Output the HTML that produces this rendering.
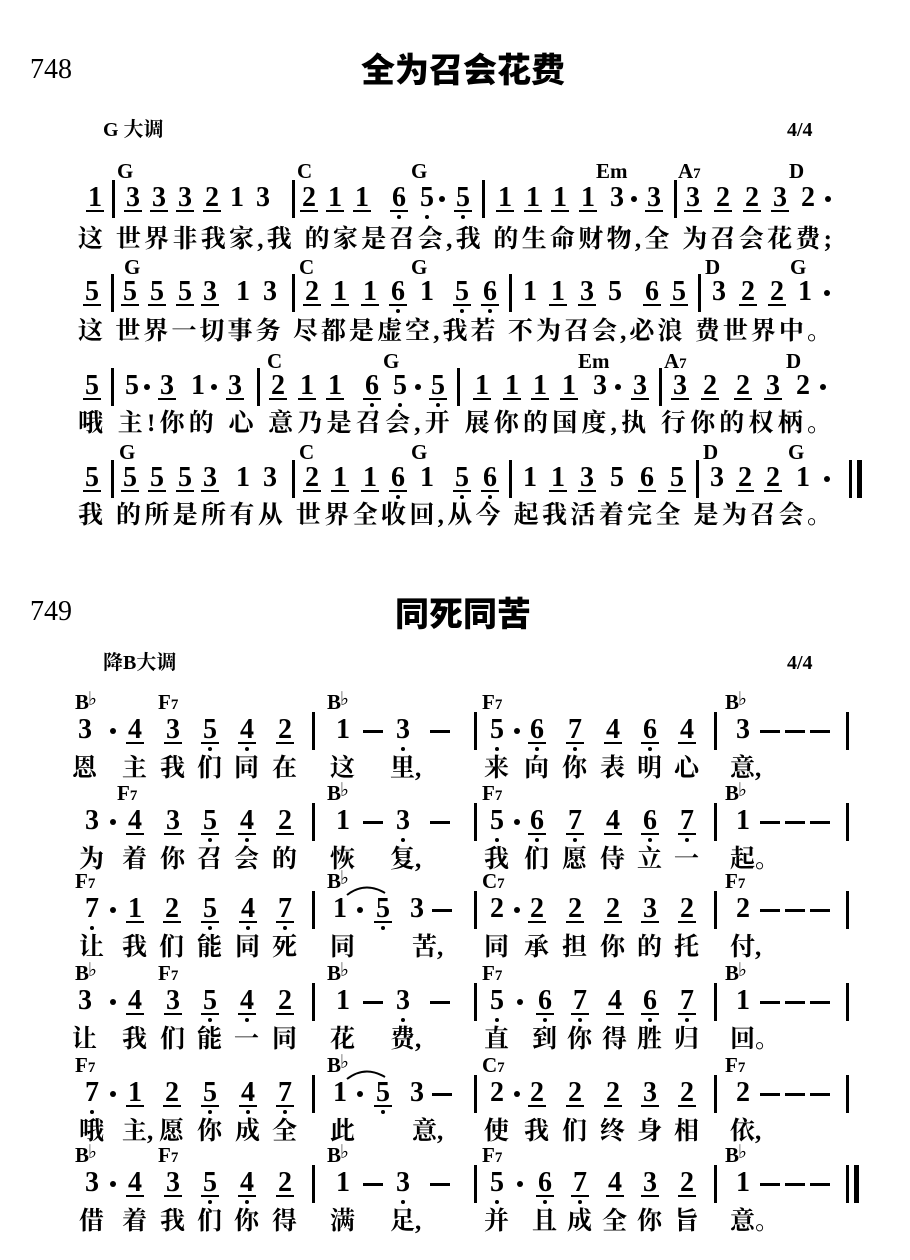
<!DOCTYPE html>
<html><head><meta charset="utf-8">
<style>
body{margin:0;background:#fff;}
#p{position:relative;width:910px;height:1260px;overflow:hidden;background:#fff;color:#000;}
.r{position:absolute;left:0;width:910px;height:0;}
.n{position:absolute;top:-14px;width:18px;height:25px;margin-left:-9px;text-align:center;font:bold 28px/26px "Liberation Serif",serif;}
.u{border-bottom:2px solid #000;}
.d::after{content:"";position:absolute;left:7px;bottom:-9px;width:4px;height:4px;border-radius:50%;background:#000;}
.m{position:absolute;top:-3px;width:6px;height:6px;margin-left:-3px;border-radius:50%;background:#000;}
.b{position:absolute;top:-19px;height:38px;width:3px;margin-left:-1px;background:#000;}
.ds{position:absolute;top:-1px;width:20px;height:3px;margin-left:-10px;background:#000;}
.c{position:absolute;font:bold 21px/20px "Liberation Serif",serif;white-space:nowrap;}
.c small{font-size:15px;}
.c sup{font-size:19px;position:relative;top:-4px;vertical-align:baseline;font-weight:normal;margin-left:-1px}
.ly{position:absolute;left:78px;width:754px;font:bold 25px/28px "Liberation Serif","Noto Serif CJK SC",serif;text-align:justify;text-align-last:justify;white-space:nowrap;}
.l{position:absolute;top:24px;width:30px;margin-left:-13px;font:bold 25px/28px "Liberation Serif","Noto Serif CJK SC",serif;white-space:nowrap;}
.num{position:absolute;font:28px/30px "Liberation Serif",serif;}
.t{position:absolute;left:0;width:910px;text-align:center;font:900 34px/38px "Liberation Sans","Noto Sans CJK SC",sans-serif;}
.k{position:absolute;font:bold 20px/22px "Liberation Serif","Noto Serif CJK SC",serif;}
</style></head><body><div id="p">

<div class="num" style="left:30px;top:55px">748</div>
<div class="t" style="top:52px;left:8px">全为召会花费</div>
<div class="k" style="left:103px;top:119px">G 大调</div>
<div class="k" style="left:787px;top:119px">4/4</div>

<!-- S1 row1 -->
<div class="r" style="top:199px">
<span class="c" style="left:117px;top:-38px">G</span><span class="c" style="left:297px;top:-38px">C</span><span class="c" style="left:411px;top:-38px">G</span><span class="c" style="left:596px;top:-38px">Em</span><span class="c" style="left:678px;top:-38px">A<small>7</small></span><span class="c" style="left:789px;top:-38px">D</span>
<i class="n u" style="left:95px">1</i><i class="b" style="left:113px"></i>
<i class="n u" style="left:133px">3</i><i class="n u" style="left:159px">3</i><i class="n u" style="left:185px">3</i><i class="n u" style="left:212px">2</i><i class="n" style="left:237px">1</i><i class="n" style="left:263px">3</i><i class="b" style="left:293px"></i>
<i class="n u" style="left:309px">2</i><i class="n u" style="left:335px">1</i><i class="n u" style="left:362px">1</i><i class="n u d" style="left:399px">6</i><i class="n d" style="left:427px">5</i><i class="m" style="left:442px"></i><i class="n u d" style="left:463px">5</i><i class="b" style="left:483px"></i>
<i class="n u" style="left:505px">1</i><i class="n u" style="left:533px">1</i><i class="n u" style="left:560px">1</i><i class="n u" style="left:588px">1</i><i class="n" style="left:617px">3</i><i class="m" style="left:634px"></i><i class="n u" style="left:654px">3</i><i class="b" style="left:675px"></i>
<i class="n u" style="left:693px">3</i><i class="n u" style="left:723px">2</i><i class="n u" style="left:752px">2</i><i class="n u" style="left:780px">3</i><i class="n" style="left:808px">2</i><i class="m" style="left:828px"></i>
</div>
<div class="ly" style="top:226px">这 世界非我家,我 的家是召会,我 的生命财物,全 为召会花费;</div>

<!-- S1 row2 -->
<div class="r" style="top:293px">
<span class="c" style="left:124px;top:-36px">G</span><span class="c" style="left:299px;top:-36px">C</span><span class="c" style="left:411px;top:-36px">G</span><span class="c" style="left:705px;top:-36px">D</span><span class="c" style="left:790px;top:-36px">G</span>
<i class="n u" style="left:92px">5</i><i class="b" style="left:112px"></i>
<i class="n u" style="left:130px">5</i><i class="n u" style="left:157px">5</i><i class="n u" style="left:185px">5</i><i class="n u" style="left:210px">3</i><i class="n" style="left:243px">1</i><i class="n" style="left:270px">3</i><i class="b" style="left:293px"></i>
<i class="n u" style="left:312px">2</i><i class="n u" style="left:340px">1</i><i class="n u" style="left:370px">1</i><i class="n u d" style="left:398px">6</i><i class="n" style="left:427px">1</i><i class="n u d" style="left:462px">5</i><i class="n u d" style="left:490px">6</i><i class="b" style="left:510px"></i>
<i class="n" style="left:530px">1</i><i class="n u" style="left:558px">1</i><i class="n u" style="left:587px">3</i><i class="n" style="left:615px">5</i><i class="n u" style="left:652px">6</i><i class="n u" style="left:679px">5</i><i class="b" style="left:699px"></i>
<i class="n" style="left:719px">3</i><i class="n u" style="left:748px">2</i><i class="n u" style="left:777px">2</i><i class="n" style="left:805px">1</i><i class="m" style="left:827px"></i>
</div>
<div class="ly" style="top:318px">这 世界一切事务 尽都是虚空,我若 不为召会,必浪 费世界中。</div>

<!-- S1 row3 -->
<div class="r" style="top:387px">
<span class="c" style="left:267px;top:-36px">C</span><span class="c" style="left:383px;top:-36px">G</span><span class="c" style="left:578px;top:-36px">Em</span><span class="c" style="left:664px;top:-36px">A<small>7</small></span><span class="c" style="left:786px;top:-36px">D</span>
<i class="n u" style="left:92px">5</i><i class="b" style="left:112px"></i>
<i class="n" style="left:132px">5</i><i class="m" style="left:147px"></i><i class="n u" style="left:167px">3</i><i class="n" style="left:198px">1</i><i class="m" style="left:214px"></i><i class="n u" style="left:235px">3</i><i class="b" style="left:258px"></i>
<i class="n u" style="left:278px">2</i><i class="n u" style="left:307px">1</i><i class="n u" style="left:335px">1</i><i class="n u d" style="left:372px">6</i><i class="n d" style="left:400px">5</i><i class="m" style="left:418px"></i><i class="n u d" style="left:438px">5</i><i class="b" style="left:458px"></i>
<i class="n u" style="left:482px">1</i><i class="n u" style="left:512px">1</i><i class="n u" style="left:540px">1</i><i class="n u" style="left:569px">1</i><i class="n" style="left:600px">3</i><i class="m" style="left:618px"></i><i class="n u" style="left:640px">3</i><i class="b" style="left:660px"></i>
<i class="n u" style="left:680px">3</i><i class="n u" style="left:710px">2</i><i class="n u" style="left:743px">2</i><i class="n u" style="left:773px">3</i><i class="n" style="left:803px">2</i><i class="m" style="left:823px"></i>
</div>
<div class="ly" style="top:410px">哦 主!你的 心 意乃是召会,开 展你的国度,执 行你的权柄。</div>

<!-- S1 row4 -->
<div class="r" style="top:479px">
<span class="c" style="left:119px;top:-37px">G</span><span class="c" style="left:299px;top:-37px">C</span><span class="c" style="left:411px;top:-37px">G</span><span class="c" style="left:703px;top:-37px">D</span><span class="c" style="left:788px;top:-37px">G</span>
<i class="n u" style="left:92px">5</i><i class="b" style="left:112px"></i>
<i class="n u" style="left:130px">5</i><i class="n u" style="left:157px">5</i><i class="n u" style="left:185px">5</i><i class="n u" style="left:210px">3</i><i class="n" style="left:243px">1</i><i class="n" style="left:270px">3</i><i class="b" style="left:293px"></i>
<i class="n u" style="left:312px">2</i><i class="n u" style="left:340px">1</i><i class="n u" style="left:370px">1</i><i class="n u d" style="left:398px">6</i><i class="n" style="left:427px">1</i><i class="n u d" style="left:462px">5</i><i class="n u d" style="left:490px">6</i><i class="b" style="left:510px"></i>
<i class="n" style="left:530px">1</i><i class="n u" style="left:558px">1</i><i class="n u" style="left:587px">3</i><i class="n" style="left:617px">5</i><i class="n u" style="left:647px">6</i><i class="n u" style="left:677px">5</i><i class="b" style="left:697px"></i>
<i class="n" style="left:717px">3</i><i class="n u" style="left:745px">2</i><i class="n u" style="left:773px">2</i><i class="n" style="left:803px">1</i><i class="m" style="left:827px"></i>
<i class="b" style="left:850px"></i><i class="b" style="left:858px;width:5px"></i>
</div>
<div class="ly" style="top:502px">我 的所是所有从 世界全收回,从今 起我活着完全 是为召会。</div>

<!-- Song 2 -->
<div class="num" style="left:30px;top:597px">749</div>
<div class="t" style="top:596px;left:8px">同死同苦</div>
<div class="k" style="left:103px;top:652px">降B大调</div>
<div class="k" style="left:787px;top:652px">4/4</div>

<!-- S2 row1 -->
<div class="r" style="top:731px">
<span class="c" style="left:75px;top:-39px">B<sup>♭</sup></span><span class="c" style="left:158px;top:-39px">F<small>7</small></span><span class="c" style="left:327px;top:-39px">B<sup>♭</sup></span><span class="c" style="left:482px;top:-39px">F<small>7</small></span><span class="c" style="left:725px;top:-39px">B<sup>♭</sup></span>
<i class="n" style="left:85px">3</i><i class="m" style="left:113px"></i><i class="n u" style="left:135px">4</i><i class="n u" style="left:173px">3</i><i class="n u d" style="left:210px">5</i><i class="n u d" style="left:247px">4</i><i class="n u" style="left:285px">2</i><i class="b" style="left:313px"></i>
<i class="n" style="left:343px">1</i><i class="ds" style="left:373px"></i><i class="n d" style="left:403px">3</i><i class="ds" style="left:440px"></i><i class="b" style="left:475px"></i>
<i class="n d" style="left:497px">5</i><i class="m" style="left:517px"></i><i class="n u d" style="left:537px">6</i><i class="n u d" style="left:575px">7</i><i class="n u" style="left:613px">4</i><i class="n u d" style="left:650px">6</i><i class="n u" style="left:687px">4</i><i class="b" style="left:715px"></i>
<i class="n" style="left:743px">3</i><i class="ds" style="left:770px"></i><i class="ds" style="left:795px"></i><i class="ds" style="left:820px"></i><i class="b" style="left:847px"></i>
<i class="l" style="left:85px">恩</i><i class="l" style="left:135px">主</i><i class="l" style="left:173px">我</i><i class="l" style="left:210px">们</i><i class="l" style="left:247px">同</i><i class="l" style="left:285px">在</i><i class="l" style="left:343px">这</i><i class="l" style="left:403px">里,</i><i class="l" style="left:497px">来</i><i class="l" style="left:537px">向</i><i class="l" style="left:575px">你</i><i class="l" style="left:613px">表</i><i class="l" style="left:650px">明</i><i class="l" style="left:687px">心</i><i class="l" style="left:743px">意,</i>
</div>

<!-- S2 row2 -->
<div class="r" style="top:822px">
<span class="c" style="left:117px;top:-39px">F<small>7</small></span><span class="c" style="left:327px;top:-39px">B<sup>♭</sup></span><span class="c" style="left:482px;top:-39px">F<small>7</small></span><span class="c" style="left:725px;top:-39px">B<sup>♭</sup></span>
<i class="n" style="left:92px">3</i><i class="m" style="left:113px"></i><i class="n u" style="left:135px">4</i><i class="n u" style="left:173px">3</i><i class="n u d" style="left:210px">5</i><i class="n u d" style="left:247px">4</i><i class="n u" style="left:285px">2</i><i class="b" style="left:313px"></i>
<i class="n" style="left:343px">1</i><i class="ds" style="left:373px"></i><i class="n d" style="left:403px">3</i><i class="ds" style="left:440px"></i><i class="b" style="left:475px"></i>
<i class="n d" style="left:497px">5</i><i class="m" style="left:517px"></i><i class="n u d" style="left:537px">6</i><i class="n u d" style="left:575px">7</i><i class="n u" style="left:613px">4</i><i class="n u d" style="left:650px">6</i><i class="n u d" style="left:687px">7</i><i class="b" style="left:715px"></i>
<i class="n" style="left:743px">1</i><i class="ds" style="left:770px"></i><i class="ds" style="left:795px"></i><i class="ds" style="left:820px"></i><i class="b" style="left:847px"></i>
<i class="l" style="left:92px">为</i><i class="l" style="left:135px">着</i><i class="l" style="left:173px">你</i><i class="l" style="left:210px">召</i><i class="l" style="left:247px">会</i><i class="l" style="left:285px">的</i><i class="l" style="left:343px">恢</i><i class="l" style="left:403px">复,</i><i class="l" style="left:497px">我</i><i class="l" style="left:537px">们</i><i class="l" style="left:575px">愿</i><i class="l" style="left:613px">侍</i><i class="l" style="left:650px">立</i><i class="l" style="left:687px">一</i><i class="l" style="left:743px">起。</i>
</div>

<!-- S2 row3 -->
<div class="r" style="top:910px">
<span class="c" style="left:75px;top:-39px">F<small>7</small></span><span class="c" style="left:327px;top:-39px">B<sup>♭</sup></span><span class="c" style="left:482px;top:-39px">C<small>7</small></span><span class="c" style="left:725px;top:-39px">F<small>7</small></span>
<svg style="position:absolute;left:345px;top:-27px" width="45" height="14"><path d="M2 12 Q20 -2 40 10" stroke="#000" stroke-width="2" fill="none"/></svg>
<i class="n d" style="left:92px">7</i><i class="m" style="left:113px"></i><i class="n u" style="left:135px">1</i><i class="n u" style="left:172px">2</i><i class="n u d" style="left:210px">5</i><i class="n u d" style="left:248px">4</i><i class="n u d" style="left:285px">7</i><i class="b" style="left:313px"></i>
<i class="n" style="left:340px">1</i><i class="m" style="left:360px"></i><i class="n u d" style="left:383px">5</i><i class="n" style="left:417px">3</i><i class="ds" style="left:442px"></i><i class="b" style="left:475px"></i>
<i class="n" style="left:497px">2</i><i class="m" style="left:517px"></i><i class="n u" style="left:537px">2</i><i class="n u" style="left:575px">2</i><i class="n u" style="left:613px">2</i><i class="n u" style="left:650px">3</i><i class="n u" style="left:687px">2</i><i class="b" style="left:715px"></i>
<i class="n" style="left:743px">2</i><i class="ds" style="left:770px"></i><i class="ds" style="left:795px"></i><i class="ds" style="left:820px"></i><i class="b" style="left:847px"></i>
<i class="l" style="left:92px">让</i><i class="l" style="left:135px">我</i><i class="l" style="left:172px">们</i><i class="l" style="left:210px">能</i><i class="l" style="left:248px">同</i><i class="l" style="left:285px">死</i><i class="l" style="left:343px">同</i><i class="l" style="left:425px">苦,</i><i class="l" style="left:497px">同</i><i class="l" style="left:537px">承</i><i class="l" style="left:575px">担</i><i class="l" style="left:613px">你</i><i class="l" style="left:650px">的</i><i class="l" style="left:687px">托</i><i class="l" style="left:743px">付,</i>
</div>

<!-- S2 row4 -->
<div class="r" style="top:1002px">
<span class="c" style="left:75px;top:-39px">B<sup>♭</sup></span><span class="c" style="left:158px;top:-39px">F<small>7</small></span><span class="c" style="left:327px;top:-39px">B<sup>♭</sup></span><span class="c" style="left:482px;top:-39px">F<small>7</small></span><span class="c" style="left:725px;top:-39px">B<sup>♭</sup></span>
<i class="n" style="left:85px">3</i><i class="m" style="left:113px"></i><i class="n u" style="left:135px">4</i><i class="n u" style="left:173px">3</i><i class="n u d" style="left:210px">5</i><i class="n u d" style="left:247px">4</i><i class="n u" style="left:285px">2</i><i class="b" style="left:313px"></i>
<i class="n" style="left:343px">1</i><i class="ds" style="left:373px"></i><i class="n d" style="left:403px">3</i><i class="ds" style="left:440px"></i><i class="b" style="left:475px"></i>
<i class="n d" style="left:497px">5</i><i class="m" style="left:520px"></i><i class="n u d" style="left:545px">6</i><i class="n u d" style="left:580px">7</i><i class="n u" style="left:615px">4</i><i class="n u d" style="left:650px">6</i><i class="n u d" style="left:687px">7</i><i class="b" style="left:715px"></i>
<i class="n" style="left:743px">1</i><i class="ds" style="left:770px"></i><i class="ds" style="left:795px"></i><i class="ds" style="left:820px"></i><i class="b" style="left:847px"></i>
<i class="l" style="left:85px">让</i><i class="l" style="left:135px">我</i><i class="l" style="left:173px">们</i><i class="l" style="left:210px">能</i><i class="l" style="left:247px">一</i><i class="l" style="left:285px">同</i><i class="l" style="left:343px">花</i><i class="l" style="left:403px">费,</i><i class="l" style="left:497px">直</i><i class="l" style="left:545px">到</i><i class="l" style="left:580px">你</i><i class="l" style="left:615px">得</i><i class="l" style="left:650px">胜</i><i class="l" style="left:687px">归</i><i class="l" style="left:743px">回。</i>
</div>

<!-- S2 row5 -->
<div class="r" style="top:1094px">
<span class="c" style="left:75px;top:-39px">F<small>7</small></span><span class="c" style="left:327px;top:-39px">B<sup>♭</sup></span><span class="c" style="left:482px;top:-39px">C<small>7</small></span><span class="c" style="left:725px;top:-39px">F<small>7</small></span>
<svg style="position:absolute;left:345px;top:-27px" width="45" height="14"><path d="M2 12 Q20 -2 40 10" stroke="#000" stroke-width="2" fill="none"/></svg>
<i class="n d" style="left:92px">7</i><i class="m" style="left:113px"></i><i class="n u" style="left:135px">1</i><i class="n u" style="left:172px">2</i><i class="n u d" style="left:210px">5</i><i class="n u d" style="left:248px">4</i><i class="n u d" style="left:285px">7</i><i class="b" style="left:313px"></i>
<i class="n" style="left:340px">1</i><i class="m" style="left:360px"></i><i class="n u d" style="left:383px">5</i><i class="n" style="left:417px">3</i><i class="ds" style="left:442px"></i><i class="b" style="left:475px"></i>
<i class="n" style="left:497px">2</i><i class="m" style="left:517px"></i><i class="n u" style="left:537px">2</i><i class="n u" style="left:575px">2</i><i class="n u" style="left:613px">2</i><i class="n u" style="left:650px">3</i><i class="n u" style="left:687px">2</i><i class="b" style="left:715px"></i>
<i class="n" style="left:743px">2</i><i class="ds" style="left:770px"></i><i class="ds" style="left:795px"></i><i class="ds" style="left:820px"></i><i class="b" style="left:847px"></i>
<i class="l" style="left:92px">哦</i><i class="l" style="left:135px">主,</i><i class="l" style="left:172px">愿</i><i class="l" style="left:210px">你</i><i class="l" style="left:248px">成</i><i class="l" style="left:285px">全</i><i class="l" style="left:343px">此</i><i class="l" style="left:425px">意,</i><i class="l" style="left:497px">使</i><i class="l" style="left:537px">我</i><i class="l" style="left:575px">们</i><i class="l" style="left:613px">终</i><i class="l" style="left:650px">身</i><i class="l" style="left:687px">相</i><i class="l" style="left:743px">依,</i>
</div>

<!-- S2 row6 -->
<div class="r" style="top:1184px">
<span class="c" style="left:75px;top:-39px">B<sup>♭</sup></span><span class="c" style="left:158px;top:-39px">F<small>7</small></span><span class="c" style="left:327px;top:-39px">B<sup>♭</sup></span><span class="c" style="left:482px;top:-39px">F<small>7</small></span><span class="c" style="left:725px;top:-39px">B<sup>♭</sup></span>
<i class="n" style="left:92px">3</i><i class="m" style="left:113px"></i><i class="n u" style="left:135px">4</i><i class="n u" style="left:173px">3</i><i class="n u d" style="left:210px">5</i><i class="n u d" style="left:247px">4</i><i class="n u" style="left:285px">2</i><i class="b" style="left:313px"></i>
<i class="n" style="left:343px">1</i><i class="ds" style="left:373px"></i><i class="n d" style="left:403px">3</i><i class="ds" style="left:440px"></i><i class="b" style="left:475px"></i>
<i class="n d" style="left:497px">5</i><i class="m" style="left:520px"></i><i class="n u d" style="left:545px">6</i><i class="n u d" style="left:580px">7</i><i class="n u" style="left:615px">4</i><i class="n u" style="left:650px">3</i><i class="n u" style="left:687px">2</i><i class="b" style="left:715px"></i>
<i class="n" style="left:743px">1</i><i class="ds" style="left:770px"></i><i class="ds" style="left:795px"></i><i class="ds" style="left:820px"></i><i class="b" style="left:847px"></i><i class="b" style="left:855px;width:5px"></i>
<i class="l" style="left:92px">借</i><i class="l" style="left:135px">着</i><i class="l" style="left:173px">我</i><i class="l" style="left:210px">们</i><i class="l" style="left:247px">你</i><i class="l" style="left:285px">得</i><i class="l" style="left:343px">满</i><i class="l" style="left:403px">足,</i><i class="l" style="left:497px">并</i><i class="l" style="left:545px">且</i><i class="l" style="left:580px">成</i><i class="l" style="left:615px">全</i><i class="l" style="left:650px">你</i><i class="l" style="left:687px">旨</i><i class="l" style="left:743px">意。</i>
</div>

</div></body></html>
